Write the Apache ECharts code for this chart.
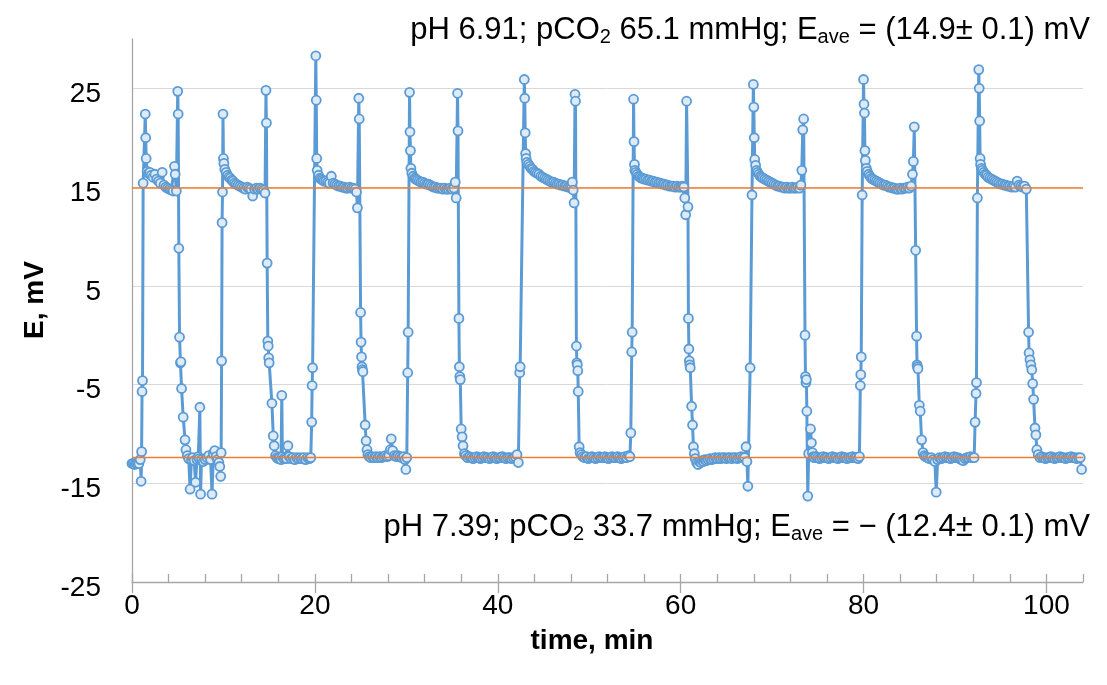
<!DOCTYPE html>
<html>
<head>
<meta charset="utf-8">
<script src="https://cdn.jsdelivr.net/npm/echarts@6/dist/echarts.min.js"></script>
<style>
  html, body { margin: 0; padding: 0; background: #fff; }
  #chart { width: 1107px; height: 685px; }
</style>
</head>
<body>
<div id="chart"></div>
<script>
// Potential readings [time, min ; E, mV], one array per solution step
const low0 = [[0,-13.0],[0.15,-13.0],[0.3,-13.1],[0.45,-13.0],[0.6,-13.0],[0.75,-13.0],[0.9,-12.6],[1.0,-14.8],[1.05,-11.8],[1.1,-5.7],[1.15,-4.6]];
const high1 = [[1.22,15.4],[1.45,22.4],[1.5,20.0],[1.55,17.9],[1.65,16.6],[1.8,16.4],[1.95,16.5],[2.1,16.2],[2.3,16.0],[2.5,16.3],[2.7,15.8],[2.9,15.6],[3.1,15.4],[3.3,16.5],[3.5,15.2],[3.7,15.0],[3.9,14.9],[4.1,14.8],[4.3,14.7],[4.5,14.6],[4.65,17.1],[4.72,16.3],[4.85,14.6],[5.0,24.7],[5.05,22.4],[5.12,8.8]];
const low1 = [[5.2,-0.2],[5.3,-2.8],[5.35,-2.7],[5.42,-5.4],[5.6,-8.3],[5.8,-10.6],[5.9,-11.6],[6.05,-12.2],[6.2,-12.5],[6.35,-15.6],[6.5,-12.6],[6.65,-12.4],[6.8,-12.7],[6.95,-14.9],[7.1,-12.6],[7.25,-12.3],[7.35,-12.5],[7.42,-7.3],[7.5,-16.1],[7.6,-12.6],[7.8,-12.8],[8.0,-12.6],[8.2,-12.4],[8.4,-12.2],[8.6,-12.6],[8.75,-16.1],[8.9,-12.0],[9.05,-11.7],[9.2,-12.3],[9.35,-12.6],[9.5,-12.9],[9.6,-13.3],[9.7,-14.3],[9.75,-11.9]];
const high2 = [[9.8,-2.6],[9.85,11.4],[9.9,14.5],[9.95,22.4],[10.0,17.9],[10.05,17.4],[10.15,16.8],[10.3,16.5],[10.45,16.2],[10.6,16.0],[10.75,15.9],[10.9,15.7],[11.05,15.6],[11.2,15.4],[11.4,15.3],[11.6,15.2],[11.8,15.1],[12.0,15.0],[12.2,14.9],[12.4,14.8],[12.6,15.0],[12.8,14.9],[13.0,14.8],[13.2,14.1],[13.4,14.8],[13.6,14.9],[13.8,14.8],[14.0,14.9],[14.2,14.8],[14.4,14.7],[14.55,14.4],[14.65,24.8],[14.7,21.5],[14.78,7.3]];
const low2 = [[14.85,-0.6],[14.9,-1.1],[14.95,-2.3],[15.0,-2.8],[15.3,-6.9],[15.45,-10.2],[15.55,-11.2],[15.7,-12.2],[15.85,-12.4],[16.0,-12.5],[16.15,-12.4],[16.3,-12.6],[16.38,-6.1],[16.45,-12.3],[16.6,-12.5],[16.75,-12.4],[16.9,-12.5],[17.05,-11.2],[17.2,-12.3],[17.4,-12.5],[17.6,-12.4],[17.8,-12.6],[18.0,-12.4],[18.2,-12.5],[18.4,-12.4],[18.6,-12.5],[18.8,-12.4],[19.0,-12.6],[19.2,-12.4],[19.4,-12.5],[19.55,-12.4],[19.65,-8.8],[19.7,-5.1]];
const high3 = [[19.75,-3.3],[20.1,28.3],[20.15,23.8],[20.2,17.9],[20.25,16.7],[20.4,16.2],[20.55,15.9],[20.7,15.8],[20.85,15.7],[21.0,15.6],[21.2,15.6],[21.4,15.5],[21.6,15.4],[21.8,16.1],[22.0,15.4],[22.2,15.3],[22.4,15.2],[22.6,15.1],[22.8,15.1],[23.0,15.0],[23.2,15.0],[23.4,14.9],[23.6,14.9],[23.8,15.0],[24.0,14.9],[24.2,14.9],[24.4,14.8],[24.55,14.5],[24.65,12.9],[24.8,24.0],[24.85,21.9]];
const low3 = [[25.0,2.3],[25.05,-0.7],[25.1,-2.2],[25.15,-3.2],[25.2,-3.5],[25.25,-3.7],[25.5,-9.1],[25.6,-10.7],[25.7,-11.6],[25.8,-12.1],[25.95,-12.3],[26.1,-12.4],[26.3,-12.3],[26.5,-12.4],[26.7,-12.3],[26.9,-12.4],[27.1,-12.3],[27.3,-12.4],[27.5,-12.3],[27.7,-12.2],[27.9,-12.3],[28.1,-12.2],[28.25,-11.6],[28.35,-10.5],[28.5,-11.7],[28.7,-12.2],[28.9,-12.3],[29.1,-12.2],[29.3,-12.3],[29.5,-12.4],[29.7,-12.3],[29.85,-12.6],[29.95,-13.6],[30.05,-12.4],[30.15,-3.8],[30.2,0.3]];
const high4 = [[30.35,24.6],[30.4,20.6],[30.45,18.7],[30.5,16.9],[30.6,16.4],[30.75,16.1],[30.9,15.9],[31.05,15.8],[31.2,15.7],[31.4,15.6],[31.6,15.5],[31.8,15.5],[32.0,15.4],[32.2,15.3],[32.4,15.3],[32.6,15.2],[32.8,15.1],[33.0,15.0],[33.2,15.0],[33.4,14.9],[33.6,14.9],[33.8,14.9],[34.0,14.8],[34.2,14.9],[34.4,14.8],[34.6,14.8],[34.8,14.9],[35.0,14.8],[35.2,14.9],[35.35,15.5],[35.45,13.9],[35.6,24.5],[35.65,20.7]];
const low4 = [[35.75,1.7],[35.8,-3.2],[35.85,-4.2],[35.9,-4.5],[36.0,-9.5],[36.1,-10.3],[36.2,-11.2],[36.35,-12.0],[36.5,-12.2],[36.7,-12.4],[36.9,-12.3],[37.1,-12.4],[37.3,-12.5],[37.5,-12.4],[37.7,-12.3],[37.9,-12.4],[38.1,-12.5],[38.3,-12.4],[38.5,-12.3],[38.7,-12.4],[38.9,-12.4],[39.1,-12.5],[39.3,-12.4],[39.5,-12.3],[39.7,-12.4],[39.9,-12.5],[40.1,-12.4],[40.3,-12.4],[40.5,-12.3],[40.7,-12.4],[40.9,-12.5],[41.1,-12.4],[41.3,-12.4],[41.5,-12.5],[41.7,-12.4],[41.9,-12.3],[42.1,-12.1],[42.25,-12.9],[42.4,-3.8],[42.45,-3.2]];
const high5 = [[42.9,25.9],[42.95,24.0],[43.0,20.5],[43.05,18.4],[43.1,17.9],[43.2,17.5],[43.35,17.3],[43.5,17.1],[43.65,16.9],[43.8,16.8],[43.95,16.6],[44.1,16.5],[44.3,16.4],[44.5,16.3],[44.7,16.1],[44.9,16.0],[45.1,15.9],[45.3,15.8],[45.5,15.7],[45.7,15.6],[45.9,15.5],[46.1,15.5],[46.3,15.4],[46.5,15.3],[46.7,15.3],[46.9,15.2],[47.1,15.2],[47.3,15.1],[47.5,15.1],[47.7,15.0],[47.9,15.0],[48.05,14.9],[48.15,15.5],[48.25,14.7],[48.35,13.4],[48.45,24.4],[48.5,23.7]];
const low5 = [[48.6,-1.1],[48.65,-2.8],[48.7,-3.0],[48.75,-3.6],[48.8,-5.7],[48.9,-11.3],[49.0,-11.9],[49.15,-12.1],[49.3,-12.3],[49.5,-12.4],[49.7,-12.3],[49.9,-12.5],[50.1,-12.4],[50.3,-12.3],[50.5,-12.4],[50.7,-12.5],[50.9,-12.4],[51.1,-12.3],[51.3,-12.4],[51.5,-12.4],[51.7,-12.3],[51.9,-12.4],[52.1,-12.5],[52.3,-12.4],[52.5,-12.3],[52.7,-12.4],[52.9,-12.4],[53.1,-12.3],[53.3,-12.4],[53.5,-12.5],[53.7,-12.4],[53.9,-12.3],[54.1,-12.4],[54.3,-12.2],[54.45,-12.3],[54.55,-9.9],[54.65,-1.7],[54.7,0.3]];
const high6 = [[54.85,23.9],[54.9,19.6],[54.95,17.3],[55.0,16.7],[55.1,16.5],[55.25,16.3],[55.4,16.1],[55.55,16.0],[55.7,15.9],[55.85,15.9],[56.0,15.8],[56.2,15.8],[56.4,15.7],[56.6,15.7],[56.8,15.6],[57.0,15.6],[57.2,15.5],[57.4,15.5],[57.6,15.4],[57.8,15.4],[58.0,15.3],[58.2,15.3],[58.4,15.2],[58.6,15.2],[58.8,15.1],[59.0,15.1],[59.2,15.1],[59.4,15.0],[59.6,15.1],[59.8,15.0],[60.0,15.0],[60.2,15.1],[60.35,15.0],[60.45,13.9],[60.55,12.2],[60.65,23.7],[60.8,13.0]];
const low6 = [[60.85,1.7],[60.9,-1.4],[60.95,-2.6],[61.0,-3.0],[61.05,-3.3],[61.2,-7.2],[61.3,-9.1],[61.4,-11.3],[61.5,-12.0],[61.6,-12.5],[61.75,-12.9],[61.9,-13.1],[62.05,-12.8],[62.2,-12.9],[62.35,-12.7],[62.5,-12.8],[62.65,-12.6],[62.8,-12.7],[63.0,-12.6],[63.2,-12.5],[63.4,-12.6],[63.6,-12.5],[63.8,-12.4],[64.0,-12.5],[64.2,-12.4],[64.4,-12.5],[64.6,-12.4],[64.8,-12.4],[65.0,-12.5],[65.2,-12.4],[65.4,-12.4],[65.6,-12.5],[65.8,-12.4],[66.0,-12.4],[66.2,-12.5],[66.4,-12.4],[66.6,-12.3],[66.8,-12.4],[67.0,-12.4],[67.15,-11.3],[67.25,-12.8],[67.35,-15.3],[67.6,-3.3],[67.8,14.2]];
const high7 = [[67.95,25.4],[68.0,23.1],[68.05,20.0],[68.1,17.8],[68.2,17.2],[68.3,16.7],[68.4,16.5],[68.55,16.3],[68.7,16.1],[68.85,16.0],[69.0,15.9],[69.2,15.8],[69.4,15.7],[69.6,15.6],[69.8,15.5],[70.0,15.4],[70.2,15.3],[70.4,15.2],[70.6,15.1],[70.8,15.1],[71.0,15.0],[71.2,15.0],[71.4,14.9],[71.6,15.0],[71.8,14.9],[72.0,14.9],[72.2,15.0],[72.4,14.9],[72.6,14.9],[72.8,15.0],[73.0,14.9],[73.15,15.2],[73.25,16.7],[73.35,20.8],[73.45,21.9]];
const low7 = [[73.6,0.0],[73.65,-4.2],[73.7,-4.8],[73.75,-4.5],[73.8,-7.7],[73.9,-16.3],[74.0,-12.0],[74.2,-9.5],[74.3,-10.9],[74.4,-11.9],[74.5,-12.3],[74.6,-12.4],[74.8,-12.3],[75.0,-12.4],[75.2,-12.5],[75.4,-12.4],[75.6,-12.3],[75.8,-12.4],[76.0,-12.4],[76.2,-12.5],[76.4,-12.4],[76.6,-12.3],[76.8,-12.4],[77.0,-12.4],[77.2,-12.5],[77.4,-12.4],[77.6,-12.3],[77.8,-12.4],[78.0,-12.4],[78.2,-12.5],[78.4,-12.4],[78.6,-12.4],[78.8,-12.3],[79.0,-12.4],[79.2,-12.4],[79.4,-12.5],[79.55,-12.3],[79.65,-5.1],[79.7,-4.0],[79.75,-2.2],[79.85,14.2]];
const high8 = [[80.0,25.9],[80.05,23.4],[80.1,22.5],[80.15,18.7],[80.2,17.7],[80.3,16.9],[80.4,16.6],[80.55,16.3],[80.7,16.1],[80.85,15.9],[81.0,15.8],[81.2,15.7],[81.4,15.6],[81.6,15.5],[81.8,15.4],[82.0,15.3],[82.2,15.2],[82.4,15.2],[82.6,15.1],[82.8,15.0],[83.0,15.0],[83.2,14.9],[83.4,14.9],[83.6,14.8],[83.8,14.8],[84.0,14.9],[84.2,14.8],[84.4,14.9],[84.6,14.9],[84.8,15.0],[85.0,14.9],[85.2,15.1],[85.35,16.3],[85.45,17.6],[85.55,21.1],[85.7,8.6]];
const low8 = [[85.8,-0.1],[85.85,-3.0],[85.9,-3.2],[85.95,-3.4],[86.1,-7.1],[86.2,-7.7],[86.35,-10.6],[86.5,-11.9],[86.65,-12.2],[86.8,-12.3],[87.0,-12.4],[87.2,-12.5],[87.4,-12.4],[87.6,-12.6],[87.8,-12.8],[87.95,-15.9],[88.1,-12.6],[88.3,-12.4],[88.5,-12.5],[88.7,-12.4],[88.9,-12.3],[89.1,-12.4],[89.3,-12.4],[89.5,-12.5],[89.7,-12.4],[89.9,-12.3],[90.1,-12.4],[90.3,-12.4],[90.5,-12.5],[90.7,-12.6],[90.9,-12.7],[91.1,-12.5],[91.3,-12.4],[91.5,-12.4],[91.7,-12.3],[91.9,-12.4],[92.1,-12.4],[92.2,-8.8],[92.3,-5.9],[92.35,-4.8],[92.45,13.9]];
const high9 = [[92.6,26.9],[92.65,25.0],[92.7,21.7],[92.75,17.9],[92.8,17.3],[92.9,16.9],[93.0,16.7],[93.15,16.5],[93.3,16.3],[93.45,16.2],[93.6,16.0],[93.8,15.9],[94.0,15.8],[94.2,15.7],[94.4,15.6],[94.6,15.5],[94.8,15.4],[95.0,15.3],[95.2,15.3],[95.4,15.2],[95.6,15.2],[95.8,15.1],[96.0,15.1],[96.2,15.0],[96.4,15.1],[96.6,15.0],[96.8,15.6],[97.0,15.2],[97.2,15.1],[97.4,15.0],[97.6,15.1],[97.8,14.8]];
const low9 = [[98.05,0.3],[98.1,-1.8],[98.2,-2.5],[98.3,-3.0],[98.4,-3.5],[98.5,-4.9],[98.6,-6.5],[98.75,-9.4],[98.85,-10.1],[98.95,-11.6],[99.1,-12.1],[99.3,-12.4],[99.5,-12.3],[99.7,-12.4],[99.9,-12.5],[100.1,-12.4],[100.3,-12.4],[100.5,-12.3],[100.7,-12.4],[100.9,-12.5],[101.1,-12.4],[101.3,-12.4],[101.5,-12.3],[101.7,-12.4],[101.9,-12.4],[102.1,-12.5],[102.3,-12.4],[102.5,-12.4],[102.7,-12.3],[102.9,-12.4],[103.1,-12.4],[103.3,-12.5],[103.5,-12.4],[103.7,-12.4],[103.85,-13.6]];

// Average potentials in the two solutions, mV
const eAveHigh = 14.9;
const eAveLow = -12.4;

// Axis settings
const timeMax = 104;
const timeLabels = [0, 20, 40, 60, 80, 100];
const eLabels = [-25, -15, -5, 5, 15, 25];

const readings = [].concat(low0, high1, low1, high2, low2, high3, low3, high4, low4,
  high5, low5, high6, low6, high7, low7, high8, low8, high9, low9);

const FONT = "'Liberation Sans', Arial, sans-serif";
const AXIS_GREY = '#a6a6a6';
const BLUE = '#5b9bd5';
const ORANGE = '#ed7d31';

const chart = echarts.init(document.getElementById('chart'), null, { renderer: 'canvas' });

const rich = {
  n: { fontSize: 31, fontFamily: FONT, color: '#000', lineHeight: 34, verticalAlign: 'middle' },
  s: { fontSize: 20, fontFamily: FONT, color: '#000', lineHeight: 20, verticalAlign: 'bottom' }
};

chart.setOption({
  animation: false,
  backgroundColor: '#fff',
  grid: { left: 132, right: 24, top: 39, bottom: 103, containLabel: false },
  xAxis: [
    {
      type: 'value', min: 0, max: timeMax, interval: 20, position: 'bottom',
      axisLine: { show: true, onZero: false, lineStyle: { color: AXIS_GREY, width: 1.3 } },
      axisTick: { show: true, inside: false, length: 11, customValues: timeLabels, lineStyle: { color: AXIS_GREY, width: 1.3 } },
      axisLabel: { customValues: timeLabels, fontSize: 28, fontFamily: FONT, color: '#000', margin: 10,
        formatter: v => (timeLabels.indexOf(v) >= 0 ? String(v) : '') },
      splitLine: { show: false }
    },
    {
      // minor ticks every 4 min, drawn inward
      type: 'value', min: 0, max: timeMax, interval: 4, position: 'bottom', gridIndex: 0,
      axisLine: { show: false, onZero: false },
      axisTick: { show: true, inside: true, length: 8, lineStyle: { color: AXIS_GREY, width: 1.3 } },
      axisLabel: { show: false },
      splitLine: { show: false }
    }
  ],
  yAxis: {
    type: 'value', min: -25, max: 30, interval: 10,
    axisLine: { show: true, onZero: false, lineStyle: { color: AXIS_GREY, width: 1.3 } },
    axisTick: { show: false },
    axisLabel: { customValues: eLabels, color: '#000', margin: 31,
      formatter: v => (eLabels.indexOf(v) >= 0 ? '{t|' + v + '}' : ''),
      rich: { t: { fontSize: 28, fontFamily: FONT, color: '#000', padding: [12, 0, 0, 0] } } },
    splitLine: { show: true, showMaxLine: false, lineStyle: { color: '#d9d9d9', width: 1 } }
  },
  series: [
    {
      type: 'line', name: 'E', xAxisIndex: 0, data: readings,
      symbol: 'circle', symbolSize: 9, showAllSymbol: true,
      lineStyle: { color: BLUE, width: 3 },
      itemStyle: { color: '#deebf7', borderColor: BLUE, borderWidth: 1.8 },
      z: 2
    },
    {
      type: 'line', name: 'Eave high', xAxisIndex: 0,
      data: [[0, eAveHigh], [timeMax, eAveHigh]],
      symbol: 'none', lineStyle: { color: ORANGE, width: 1.5 }, z: 3
    },
    {
      type: 'line', name: 'Eave low', xAxisIndex: 0,
      data: [[0, eAveLow], [timeMax, eAveLow]],
      symbol: 'none', lineStyle: { color: ORANGE, width: 1.5 }, z: 3
    }
  ],
  graphic: [
    {
      type: 'text', x: 1090, y: 30, z: 10,
      style: {
        text: '{n|pH 6.91; pCO}{s|2}{n| 65.1 mmHg; E}{s|ave}{n| = (14.9± 0.1) mV}',
        rich: rich, align: 'right', verticalAlign: 'middle'
      }
    },
    {
      type: 'text', x: 1090, y: 527, z: 10,
      style: {
        text: '{n|pH 7.39; pCO}{s|2}{n| 33.7 mmHg; E}{s|ave}{n| = \u2212 (12.4± 0.1) mV}',
        rich: rich, align: 'right', verticalAlign: 'middle'
      }
    },
    {
      type: 'text', x: 35, y: 300, rotation: Math.PI / 2, z: 10,
      style: { text: 'E, mV', fontSize: 28, fontWeight: 'bold', fontFamily: FONT, fill: '#000', align: 'center', verticalAlign: 'middle' }
    },
    {
      type: 'text', x: 592, y: 641, z: 10,
      style: { text: 'time, min', fontSize: 28, fontWeight: 'bold', fontFamily: FONT, fill: '#000', align: 'center', verticalAlign: 'middle' }
    }
  ]
});
</script>
</body>
</html>
